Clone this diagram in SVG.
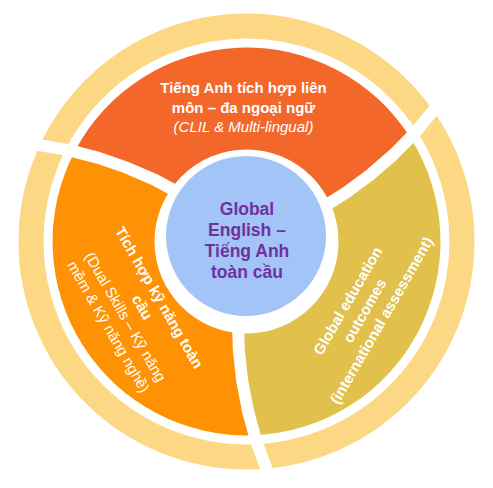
<svg xmlns="http://www.w3.org/2000/svg" width="493" height="488" viewBox="0 0 493 488">
  <style>
    .lbl { font-family: "Liberation Sans", Arial, sans-serif; fill: #ffffff; text-anchor: middle; font-size: 15px; }
    .b { font-weight: bold; }
    .it { font-style: italic; }
    .core { font-family: "Liberation Sans", Arial, sans-serif; fill: #7030A0; text-anchor: middle; font-size: 17.5px; font-weight: bold; }
    .divider { fill: none; stroke: #ffffff; stroke-width: 12; stroke-linejoin: round; stroke-linecap: butt; }
  </style>

  <rect width="493" height="488" fill="#ffffff"/>

  <!-- outer pale band -->
  <g id="outer-ring">
    <circle cx="246.5" cy="241.5" r="215.5" fill="none" stroke="#FCD784" stroke-width="25"/>
  </g>

  <!-- top segment -->
  <g id="node-clil">
    <path fill="#F4672B" d="M246.5,241.5 L181.9,194.3 L155.3,180.1 L127.4,167.9 L98.5,157.9 L74.7,151.5 A194,194 0 0 1 410.4,137.7 L392.9,155.1 L369.8,175.1 L345.3,193.2 L319.7,209.2 Z"/>
    <text class="lbl b" x="243.5" y="93">Tiếng Anh tích hợp liên</text>
    <text class="lbl b" x="243.5" y="113">môn – đa ngoại ngữ</text>
    <text class="lbl it" x="243.5" y="132">(CLIL &amp; Multi-lingual)</text>
  </g>

  <!-- right segment -->
  <g id="node-outcomes">
    <path fill="#E1C04B" d="M246.5,241.5 L319.7,209.2 L345.3,193.2 L369.8,175.1 L392.9,155.1 L410.4,137.7 A194,194 0 0 1 254.5,435.3 L248.1,411.5 L242.3,381.4 L238.9,351.2 L237.9,321.0 Z"/>
    <g transform="translate(364.5,310.5) rotate(-60)">
      <text class="lbl b" x="0" y="-14.1">Global education</text>
      <text class="lbl b" x="0" y="5.4">outcomes</text>
      <text class="lbl b" x="0" y="24.9">(international assessment)</text>
    </g>
  </g>

  <!-- left segment -->
  <g id="node-skills">
    <path fill="#FE9104" d="M246.5,241.5 L237.9,321.0 L238.9,351.2 L242.3,381.4 L248.1,411.5 L254.5,435.3 A194,194 0 0 1 74.7,151.5 L98.5,157.9 L127.4,167.9 L155.3,180.1 L181.9,194.3 Z"/>
    <g transform="translate(134,312) rotate(60)">
      <text class="lbl b" x="0" y="-23.9">Tích hợp kỹ năng toàn</text>
      <text class="lbl b" x="0" y="-4.4">cầu</text>
      <text class="lbl" x="0" y="15.1">(Dual Skills – Kỹ năng</text>
      <text class="lbl" x="0" y="34.6">mềm &amp; Kỹ năng nghề)</text>
    </g>
  </g>

  <!-- curved separators running through segments and band -->
  <g id="dividers">
    <polyline class="divider" points="181.9,194.3 155.3,180.1 127.4,167.9 98.5,157.9 68.6,150.1 27.6,143.1"/>
    <polyline class="divider" points="319.7,209.2 345.3,193.2 369.8,175.1 392.9,155.1 414.6,133.2 441.2,101.1"/>
    <polyline class="divider" points="237.9,321.0 238.9,351.2 242.3,381.4 248.1,411.5 256.3,441.3 270.8,480.3"/>
  </g>

  <!-- hub -->
  <g id="node-core">
    <circle cx="246.5" cy="241.5" r="92" fill="#ffffff"/>
    <circle cx="246" cy="236" r="80" fill="#A3C4F7"/>
    <text class="core" x="247" y="215">Global</text>
    <text class="core" x="247" y="236">English –</text>
    <text class="core" x="247" y="257">Tiếng Anh</text>
    <text class="core" x="247" y="278">toàn cầu</text>
  </g>
</svg>
